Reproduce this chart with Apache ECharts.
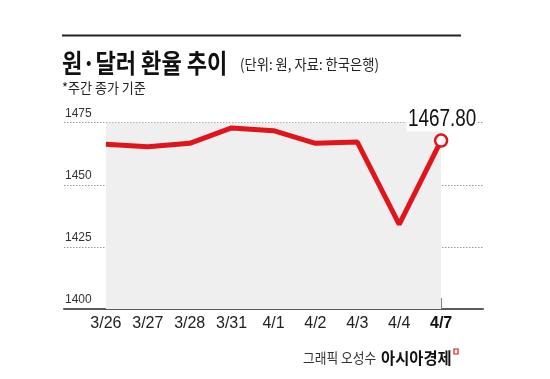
<!DOCTYPE html>
<html>
<head>
<meta charset="utf-8">
<script src="https://cdn.jsdelivr.net/npm/echarts@6/dist/echarts.min.js"></script>
<style>
html,body{margin:0;padding:0;background:#fff;}
#c{width:550px;height:379px;}
</style>
</head>
<body>
<div id="c"></div>
<script>
// ---- data ----
const categories = ['3/26', '3/27', '3/28', '3/31', '4/1', '4/2', '4/3', '4/4', '4/7'];
const rates = [1466.3, 1465.3, 1466.7, 1472.9, 1471.8, 1466.7, 1467.2, 1434.1, 1467.8];
const yTicks = [1400, 1425, 1450, 1475];
const lastLabel = '1467.80';

const KR = "'Noto Sans CJK KR', 'Noto Sans', sans-serif";
const LAT = "'Liberation Sans', Arial, sans-serif";

// pad one empty slot on each side so the axis line runs past the first/last date
const cats = [''].concat(categories, [' ']);
const lastIdx = categories.length - 1;
const seriesData = ['-'].concat(rates.map((v, i) => i === lastIdx ? {
  value: v,
  symbol: 'circle',
  symbolSize: 12,
  itemStyle: { color: '#fff', borderColor: '#e1141b', borderWidth: 2.5 }
} : { value: v, symbol: 'none' }), ['-']);

const chart = echarts.init(document.getElementById('c'), null, { renderer: 'canvas' });
const staticGraphics = [
  { type: 'rect', shape: { x: 62, y: 34.5, width: 399, height: 2 }, style: { fill: '#222' } },
  { type: 'text', x: 62, y: 63, scaleX: 0.85,
    style: { text: '원·달러 환율 추이', font: 'bold 26px ' + KR, fill: '#111', textVerticalAlign: 'middle' } },
  { type: 'text', x: 240, y: 64, scaleX: 0.885,
    style: { text: '(단위: 원, 자료: 한국은행)', font: '15px ' + KR, fill: '#222', textVerticalAlign: 'middle' } },
  { type: 'text', x: 62, y: 88, scaleX: 0.93,
    style: { text: '*주간 종가 기준', font: '14px ' + KR, fill: '#222', textVerticalAlign: 'middle' } },
  { type: 'text', x: 303, y: 358, scaleX: 0.91,
    style: { text: '그래픽 오성수', font: '14px ' + KR, fill: '#333', textVerticalAlign: 'middle' } },
  { type: 'text', x: 381, y: 358, scaleX: 0.96,
    style: { text: '아시아경제', font: 'bold 16px ' + KR, fill: '#111', textVerticalAlign: 'middle' } },
  { type: 'rect', shape: { x: 454, y: 349, width: 4, height: 5 }, style: { fill: 'none', stroke: '#e1141b', lineWidth: 1.2 } }
];

chart.setOption({
  animation: false,
  backgroundColor: '#fff',
  grid: { left: 64, right: 67, top: 122.7, bottom: 70, containLabel: false },
  xAxis: {
    type: 'category',
    data: cats,
    boundaryGap: false,
    axisLine: { show: true, lineStyle: { color: '#5a5a5a', width: 2 } },
    axisTick: {
      show: true, inside: true, length: 11,
      interval: (i) => i > 0 && i < cats.length - 1,
      lineStyle: { color: '#777', width: 1 }
    },
    axisLabel: {
      interval: 0, margin: 7,
      fontFamily: LAT, fontSize: 16, color: '#222',
      formatter: (v) => v === categories[lastIdx] ? '{b|' + v + '}' : v,
      rich: { b: { fontFamily: LAT, fontSize: 16, fontWeight: 'bold', color: '#111' } }
    },
    splitLine: { show: false }
  },
  yAxis: {
    type: 'value',
    min: yTicks[0], max: yTicks[yTicks.length - 1], interval: 25,
    axisLine: { show: false },
    axisTick: { show: false },
    axisLabel: {
      inside: true, margin: 1,
      verticalAlign: 'bottom', padding: [0, 0, 3, 0],
      formatter: (v) => String(v),
      fontFamily: LAT, fontSize: 12, color: '#333'
    },
    splitLine: { show: true, lineStyle: { color: '#999', type: [1.5, 1.5], width: 1 } }
  },
  series: [{
    type: 'line',
    data: seriesData,
    lineStyle: { color: '#e1141b', width: 5 },
    itemStyle: { color: '#e1141b' },
    showSymbol: true,
    z: 3,
    markArea: {
      silent: true,
      itemStyle: { color: '#efefef' },
      data: [[{ xAxis: categories[0] }, { xAxis: categories[lastIdx] }]]
    }
  }],
  graphic: staticGraphics
});

// end-value label: position it from the library's own scales, condensed horizontally
const endPt = chart.convertToPixel({ seriesIndex: 0 }, [categories[lastIdx], rates[lastIdx]]);
chart.setOption({
  graphic: staticGraphics.concat([{
    type: 'text', x: endPt[0] + 1, y: endPt[1] - 9, scaleX: 0.82, z: 10,
    style: {
      text: lastLabel, font: '23px ' + LAT, fill: '#111',
      textAlign: 'center', textVerticalAlign: 'bottom',
      backgroundColor: '#fff', padding: [0, 2, 0, 2]
    }
  }])
});
</script>
</body>
</html>
